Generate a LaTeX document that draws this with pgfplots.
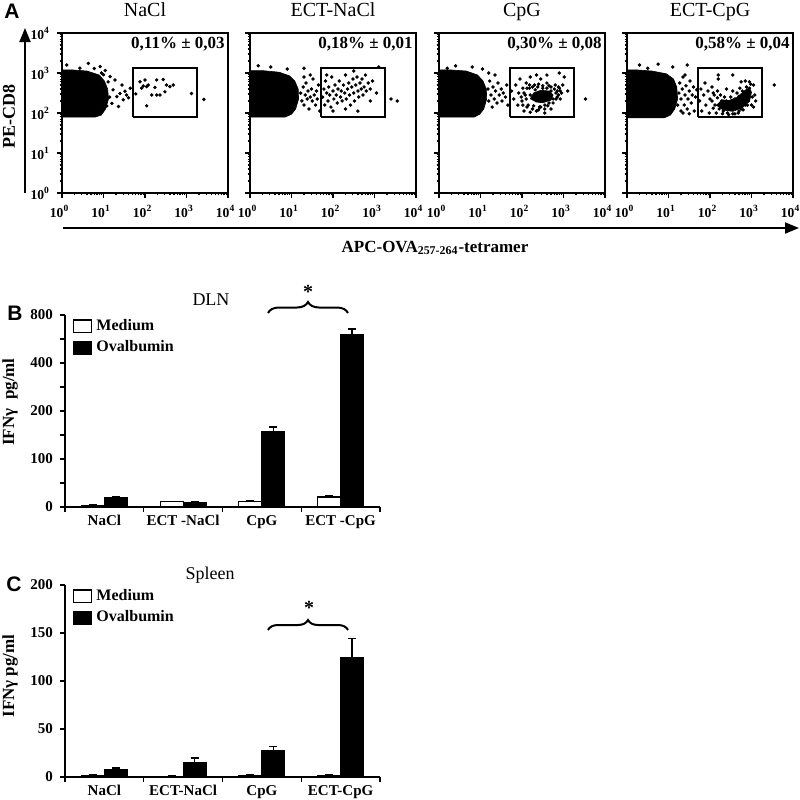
\documentclass[border=0pt]{standalone}
\usepackage{pgfplots}
\pgfplotsset{compat=1.18}
\usepackage{fontspec}
\setmainfont{Liberation Serif}
\newfontfamily\sansbf{Liberation Sans}
\usetikzlibrary{arrows.meta,decorations.pathreplacing}
\newcommand\fs[1]{\fontsize{#1}{#1}\selectfont}
\newcommand\dec[1]{10\textsuperscript{#1}}

\pgfplotsset{
 flow/.style={
  scale only axis, width=83pt, height=80pt, anchor=south west,
  xmin=1, xmax=10000, ymin=1, ymax=10000,
  axis line style={line width=1.1pt},
  tick pos=left, tick align=outside,
  major tick length=2.5pt, minor tick length=1.2pt,
  every tick/.style={black, line width=0.6pt},
  xtick={1,10,100,1000,10000}, ytick={1,10,100,1000,10000},
  xticklabels={\dec0,\dec1,\dec2,\dec3,\dec4},
  yticklabels={\dec0,\dec1,\dec2,\dec3,\dec4},
  tick label style={font=\fs{6.8}\bfseries},
  xticklabel style={xshift=-1.2pt},
 },
 dots/.style={only marks, mark=*, mark size=0.65pt, black},
 blob/.style={fill=black, draw=black, line width=0.3pt, mark=none},
 gate/.style={draw=black, line width=1pt, mark=none, fill=none},
 lgbox/.style={legend image code/.code={\draw[##1,/tikz/.cd,line width=0.6pt] (0pt,-3.2pt) rectangle (9pt,3.2pt);}},
 barax/.style={
  anchor=south west, scale only axis, width=157.5pt, height=96pt,
  ybar=0pt, bar width=11.5pt, xmin=-0.5, xmax=3.5, ymin=0,
  axis x line*=bottom, axis y line*=left, axis line style={line width=0.8pt},
  xtick={0,1,2,3}, minor xtick={-0.5,0.5,1.5,2.5,3.5},
  major x tick style={draw=none},
  tick align=outside, major tick length=2.5pt, minor tick length=2.5pt,
  every tick/.style={black, line width=0.6pt},
  tick label style={font=\fs{7.5}\bfseries},
  xticklabel style={yshift=2pt},
  legend style={at={(0.025,1)}, anchor=north west, draw=none, fill=none,
    font=\fs{8}\bfseries, row sep=-0.5pt, inner sep=0pt},
  legend cell align=left,
 },
 ebar/.style={error bars/.cd, y dir=plus, y explicit,
   error bar style={line width=0.7pt, black},
   error mark options={rotate=90, line width=0.7pt, mark size=2pt, black}},
}

\begin{document}
\begin{tikzpicture}
\useasboundingbox (0,0) rectangle (400pt,-400pt);

% ---------------- Panel A: NaCl
\begin{loglogaxis}[flow, name=a1, at={(31pt,-96.5pt)}]
\addplot[blob] coordinates {(1,79.4)(6.31,79.4)(8.91,89.1)(11.2,126)(13.2,224)(12.6,398)(10.5,631)(7.94,891)(3.98,1122)(1.58,1202)(1,1202)};
\addplot[dots] coordinates {
(14.4,813)(17,380)(19,670)(16,174)(21,257)(23,145)(25,309)(30,214)(36,282)(44,417)(28,500)(33,350)(40,240)
(4.3,1740)(1.3,1585)(8.3,1445)(2.7,1318)(11,1150)(6,1300)
(76,603)(100,670)(83,417)(110,457)(120,501)(191,670)(275,690)(331,501)(398,457)(479,501)(191,282)(229,282)(145,282)(110,151)(1318,309)(302,339)(91,475)(174,437)(60,300)
(2630,219)(12,150)(13,600)(10,900)(9,1000)(14,250)};
\addplot[gate] coordinates {(50,80)(1800,80)(1800,1300)(50,1300)(50,80)};
\end{loglogaxis}

% ---------------- Panel A: ECT-NaCl
\begin{loglogaxis}[flow, name=a2, at={(125pt,-96.5pt)}, yticklabels={}]
\addplot[blob] coordinates {(1,79.4)(7.08,79.4)(10,93.3)(12.6,126)(14.8,224)(14.5,398)(12,631)(8.91,851)(5.01,1047)(2,1148)(1,1148)};
\addplot[dots] coordinates {
(16.6,316)(17.8,200)(19.1,447)(20,158)(21.4,282)(22.4,562)(24,224)(25.1,355)(26.3,126)(28.2,251)(30.2,398)(31.6,200)(33.1,708)(35.5,282)(38,158)(39.8,355)(41.7,224)(44.7,501)(47.9,112)(20,794)(28.2,891)
(56.2,251)(60.3,398)(63.1,158)(66.1,631)(70.8,316)(75.9,200)(79.4,447)(83.2,282)(89.1,141)(93.3,794)(100,355)(105,224)(112,501)(120,282)(126,178)(132,398)(141,631)(151,251)(158,355)(166,200)(178,501)(191,316)(200,891)(209,224)(224,398)(240,562)(251,282)(263,158)(282,447)(302,708)(316,316)(331,200)(355,501)(380,794)(398,355)(417,251)(447,562)(479,398)(501,708)(525,282)(562,447)(603,891)(631,355)(708,562)(794,398)(891,631)(200,126)(398,112)(100,112)(70.8,891)(794,200)(316,1122)(1122,316)
(2512,224)(3548,200)(1259,1413)
(3.16,1413)(7.94,1259)(1.58,1514)(20,1318)};
\addplot[gate] coordinates {(50,80)(1800,80)(1800,1300)(50,1300)(50,80)};
\end{loglogaxis}

% ---------------- Panel A: CpG
\begin{loglogaxis}[flow, name=a3, at={(219.5pt,-96.5pt)}, yticklabels={}]
\addplot[blob] coordinates {(1,79.4)(7.08,79.4)(9.55,93)(12,126)(14.1,224)(13.8,398)(11.5,631)(8.5,891)(4.5,1122)(1.7,1202)(1,1202)};
\addplot[blob] coordinates {(158,224)(190,316)(282,370)(447,355)(562,282)(500,210)(316,180)(210,190)};
\addplot[dots] coordinates {
(15.1,398)(15.8,200)(16.6,631)(17.8,282)(19.1,141)(20,447)(21.4,224)(22.9,355)(25.1,178)(26.3,562)(28.2,282)(31.6,398)(33.1,200)(35.5,316)(39.8,251)(42.7,501)(45.7,158)(15.8,1000)(22.4,891)
(56.2,355)(63.1,224)(70.8,501)(79.4,158)(83.2,316)(89.1,708)(100,200)(105,417)(112,112)(120,282)(126,562)(132,141)(151,417)(158,794)(178,126)(200,501)(224,112)(251,525)(263,141)(316,479)(355,126)(398,562)(417,151)(501,447)(562,178)(631,501)(661,224)(708,355)(759,282)(794,417)(832,224)(891,316)(955,501)(1047,794)(224,891)(398,891)(794,1000)(282,708)(355,100)(158,105)(501,126)(1259,355)
(112,316)(126,224)(132,417)(141,158)(158,282)(178,447)(191,151)(209,380)(240,447)(282,141)(316,417)(355,158)(398,417)(447,178)(501,355)(603,398)(661,316)(562,224)(708,251)(251,120)(447,479)(151,501)(95.5,251)(105,158)(759,447)(832,355)
(3388,224)
(2.51,1514)(6.31,1413)(1.58,1318)(11.2,1259)};
\addplot[gate] coordinates {(50,80)(1800,80)(1800,1300)(50,1300)(50,80)};
\end{loglogaxis}

% ---------------- Panel A: ECT-CpG
\begin{loglogaxis}[flow, name=a4, at={(313.5pt,-96.5pt)}, yticklabels={}]
\addplot[blob] coordinates {(1,75.9)(7.94,75.9)(11.2,89.1)(14.1,126)(16.6,224)(15.8,447)(13.2,708)(8.91,955)(3.98,1122)(1.58,1202)(1,1202)};
\addplot[blob] coordinates {(141,158)(210,118)(355,110)(600,135)(900,200)(1000,330)(891,430)(700,370)(447,245)(282,205)(190,215)};
\addplot[dots] coordinates {
(16.6,158)(17.8,316)(18.6,562)(20,112)(20,224)(21.4,398)(22.4,794)(24,158)(25.1,282)(26.3,479)(28.2,126)(29.5,224)(31.6,355)(33.1,631)(35.5,178)(37.2,282)(39.8,447)(41.7,112)(44.7,251)(47.9,380)(22.4,100)(31.6,95.5)(25.1,891)
(56.2,200)(60.3,398)(63.1,112)(70.8,282)(75.9,562)(79.4,158)(89.1,355)(95.5,100)(100,224)(112,447)(120,132)(126,282)(141,100)(151,355)(158,708)(178,282)(200,95.5)(224,251)(251,398)(282,91.2)(316,251)(355,355)(398,95.5)(447,316)(501,112)(525,417)(562,603)(631,120)(708,631)(794,158)(891,603)(1000,158)(1122,501)(1202,282)(1259,200)(355,891)(158,891)(224,151)(398,191)(794,282)(1122,141)
(112,200)(120,316)(132,158)(151,240)(166,126)(191,200)(209,112)(251,200)(263,100)(316,191)(355,95.5)(398,224)(479,100)(501,263)(562,126)(603,355)(708,158)(759,447)(832,200)(955,525)(1047,251)(794,355)(891,417)(631,224)(417,141)(282,141)
(3548,501)
(2,1585)(5.62,1660)(12.6,1413)(3.16,1318)(28.2,1585)};
\addplot[gate] coordinates {(50,80)(1800,80)(1800,1300)(50,1300)(50,80)};
\end{loglogaxis}

% panel A texts
\node[font=\sansbf\fs{10.5}\bfseries] at (6pt,-5.5pt) {A};
\foreach \n/\t/\p in {a1/NaCl/{0,11\% ± 0,03}, a2/ECT-NaCl/{0,18\% ± 0,01}, a3/CpG/{0,30\% ± 0,08}, a4/ECT-CpG/{0,58\% ± 0,04}}{
  \node[font=\fs{10}, anchor=base] at ([yshift=8.2pt]\n.north) {\t};
  \node[font=\fs{8.5}\bfseries, anchor=north east, inner sep=0pt] at ([xshift=-1.5pt,yshift=-2pt]\n.north east) {\p};
}
\node[rotate=90, font=\fs{9}\bfseries] at (4.5pt,-58pt) {PE-CD8};
\draw[line width=1pt, -{Triangle[width=5.5pt,length=7pt]}] (12.5pt,-96.5pt) -- (12.5pt,-14pt);
\draw[line width=1pt, -{Triangle[width=5.5pt,length=7pt]}] (31.5pt,-114pt) -- (399.5pt,-114pt);
\node[font=\fs{8.5}\bfseries] at (217.5pt,-124pt) {APC-OVA\textsubscript{257-264}-tetramer};

% ---------------- Panel B (axis with 0,100,200,400,800 equally spaced)
% error bar lengths are given in axis units of this spacing (1 unit = one tick step)
\begin{axis}[barax, name=b, at={(32.5pt,-253.5pt)}, ymax=800,
  y coord trafo/.code={\pgfmathparse{ifthenelse(#1<=100, #1/100, ifthenelse(#1<=200, 1+(#1-100)/100, ifthenelse(#1<=400, 2+(#1-200)/200, 3+(#1-400)/400)))}},
  y coord inv trafo/.code={\pgfmathparse{ifthenelse(#1<=1, #1*100, ifthenelse(#1<=2, 100+(#1-1)*100, ifthenelse(#1<=3, 200+(#1-2)*200, 400+(#1-3)*400)))}},
  ytick={0,100,200,400,800}, yticklabels={0,100,200,400,800}, minor ytick={50,150,300,600},
  xticklabels={NaCl,ECT -NaCl,CpG,ECT -CpG}]
\addplot[fill=white, draw=black, line width=0.6pt, lgbox, ebar] coordinates {(0,3) +- (0,0.01) (1,11) +- (0,0.01) (2,11) +- (0,0.02) (3,21) +- (0,0.02)};
\addplot[fill=black, draw=black, line width=0.6pt, lgbox, ebar] coordinates {(0,19) +- (0,0.02) (1,9) +- (0,0.02) (2,157) +- (0,0.10) (3,640) +- (0,0.11)};
\legend{Medium,Ovalbumin}
\end{axis}
\node[font=\sansbf\fs{10.5}\bfseries] at (7.5pt,-156.5pt) {B};
\node[font=\fs{9}] at (105.5pt,-150pt) {DLN};
\node[rotate=90, font=\fs{8.5}\bfseries] at (5pt,-201pt) {IFNγ\ \ pg/ml};
\draw[line width=1pt, decorate, decoration={brace, amplitude=5.5pt}] (134pt,-156.5pt) -- (174pt,-156.5pt);
\node[font=\fs{10}\bfseries] at (154pt,-146pt) {*};

% ---------------- Panel C
\begin{axis}[barax, name=c, at={(32.5pt,-388.5pt)}, ymax=200,
  ytick={0,50,100,150,200}, yticklabels={0,50,100,150,200},
  xticklabels={NaCl,ECT-NaCl,CpG,ECT-CpG}]
\addplot[fill=white, draw=black, line width=0.6pt, lgbox, ebar] coordinates {(0,1.5) +- (0,0.5) (1,0.8) +- (0,0.3) (2,1.5) +- (0,0.5) (3,1.5) +- (0,0.5)};
\addplot[fill=black, draw=black, line width=0.6pt, lgbox, ebar] coordinates {(0,8) +- (0,1.2) (1,15) +- (0,5) (2,27) +- (0,5) (3,124) +- (0,20)};
\legend{Medium,Ovalbumin}
\end{axis}
\node[font=\sansbf\fs{10.5}\bfseries] at (7pt,-292pt) {C};
\node[font=\fs{9}] at (105pt,-287.5pt) {Spleen};
\node[rotate=90, font=\fs{8.5}\bfseries] at (5pt,-338pt) {IFNγ pg/ml};
\draw[line width=1pt, decorate, decoration={brace, amplitude=5pt}] (134pt,-315pt) -- (174pt,-315pt);
\node[font=\fs{10}\bfseries] at (154.5pt,-304pt) {*};
\end{tikzpicture}
\end{document}
